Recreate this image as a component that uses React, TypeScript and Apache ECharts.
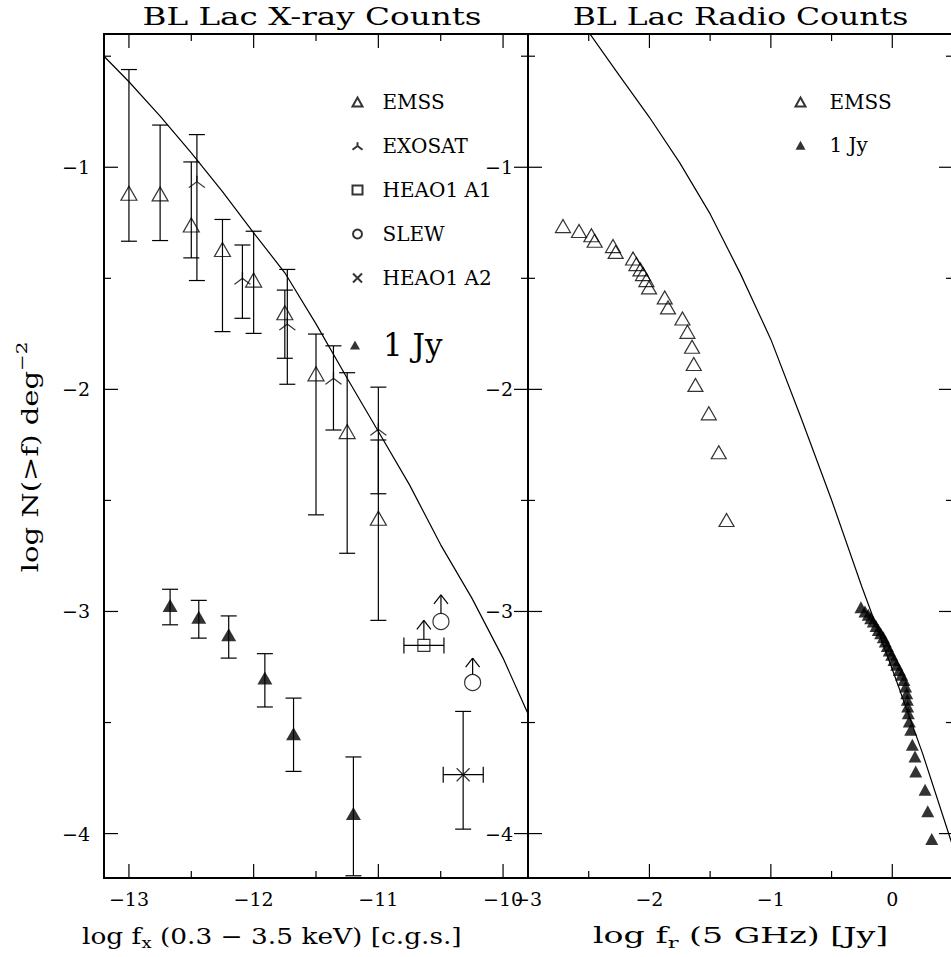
import React, { useEffect, useRef } from 'react';
import * as echarts from 'echarts';

const FONT = 'DejaVu Serif';

// axis ranges and ticks
const LEFT_X_RANGE = [-13.2, -9.8];
const RIGHT_X_RANGE = [-3, 0.5];
const Y_RANGE = [-4.2, -0.4];
const X_TICKS_LEFT = [-13, -12.5, -12, -11.5, -11, -10.5, -10];
const X_TICKS_RIGHT = [-3, -2.5, -2, -1.5, -1, -0.5, 0];
const Y_TICKS = [-4, -3.5, -3, -2.5, -2, -1.5, -1, -0.5];

// X-ray panel: EMSS
const EMSS_X = [-13.0, -12.75, -12.5, -12.25, -12.0, -11.75, -11.5, -11.25, -11.0];
const EMSS_Y = [-1.117, -1.12, -1.26, -1.37, -1.508, -1.655, -1.93, -2.19, -2.58];
const EMSS_LO = [-1.333, -1.33, -1.408, -1.74, -1.748, -1.86, -2.565, -2.738, -3.04];
const EMSS_HI = [-0.56, -0.81, -0.976, -1.235, -1.288, -1.553, -1.751, -1.925, -2.228];

// X-ray panel: EXOSAT
const EXOSAT_X = [-12.455, -12.09, -11.73, -11.36, -11.0];
const EXOSAT_Y = [-1.065, -1.5, -1.706, -1.95, -2.18];
const EXOSAT_LO = [-1.51, -1.68, -1.977, -2.183, -2.47];
const EXOSAT_HI = [-0.853, -1.35, -1.46, -1.804, -1.99];

// X-ray panel: 1 Jy
const JY_X = [-12.67, -12.44, -12.2, -11.91, -11.68, -11.2];
const JY_Y = [-2.973, -3.026, -3.105, -3.3, -3.55, -3.91];
const JY_LO = [-3.06, -3.12, -3.21, -3.43, -3.72, -4.19];
const JY_HI = [-2.9, -2.95, -3.02, -3.19, -3.39, -3.655];

// X-ray panel: HEAO1 A1 (lower limit)
const A1_X = [-10.635];
const A1_Y = [-3.153];
const A1_XLO = [-10.795];
const A1_XHI = [-10.474];
const A1_LIMIT = [-3.04];

// X-ray panel: SLEW (lower limits)
const SLEW_X = [-10.498, -10.244];
const SLEW_Y = [-3.045, -3.32];
const SLEW_LIMIT = [-2.925, -3.21];

// X-ray panel: HEAO1 A2
const A2_X = [-10.32];
const A2_Y = [-3.735];
const A2_XLO = [-10.48];
const A2_XHI = [-10.159];
const A2_LO = [-3.98];
const A2_HI = [-3.45];

// X-ray model curve
const LEFT_CURVE_X = [-13.2, -13.0, -12.75, -12.5, -12.25, -12.0, -11.75, -11.5, -11.25, -11.0, -10.75, -10.5, -10.25, -10.0, -9.8];
const LEFT_CURVE_Y = [-0.5, -0.615, -0.77, -0.935, -1.11, -1.295, -1.475, -1.705, -1.95, -2.19, -2.43, -2.7, -2.94, -3.21, -3.46];

// Radio panel: EMSS
const R_EMSS_X = [-2.712, -2.58, -2.478, -2.451, -2.3, -2.278, -2.135, -2.107, -2.074, -2.053, -2.025, -2.003, -1.874, -1.847, -1.728, -1.687, -1.649, -1.635, -1.621, -1.511, -1.429, -1.365];
const R_EMSS_Y = [-1.265, -1.287, -1.306, -1.331, -1.355, -1.381, -1.411, -1.436, -1.46, -1.481, -1.508, -1.541, -1.586, -1.631, -1.681, -1.741, -1.808, -1.886, -1.98, -2.108, -2.283, -2.588];

// Radio panel: 1 Jy
const R_JY_X = [-0.258, -0.225, -0.198, -0.178, -0.157, -0.134, -0.115, -0.096, -0.074, -0.058, -0.041, -0.025, -0.005, 0.014, 0.036, 0.058, 0.077, 0.096, 0.11, 0.119, 0.124, 0.127, 0.132, 0.14, 0.152, 0.165, 0.187, 0.193, 0.27, 0.292, 0.325];
const R_JY_Y = [-2.981, -3.0, -3.015, -3.03, -3.045, -3.065, -3.083, -3.098, -3.116, -3.135, -3.155, -3.176, -3.195, -3.218, -3.24, -3.263, -3.285, -3.308, -3.338, -3.368, -3.398, -3.428, -3.458, -3.495, -3.533, -3.6, -3.653, -3.72, -3.803, -3.9, -4.024];

// Radio model curve
const RIGHT_CURVE_X = [-2.5, -2.25, -2.0, -1.75, -1.5, -1.25, -1.0, -0.75, -0.5, -0.25, 0, 0.25, 0.5];
const RIGHT_CURVE_Y = [-0.392, -0.585, -0.775, -0.98, -1.21, -1.48, -1.775, -2.13, -2.498, -2.89, -3.26, -3.64, -4.06];

const LEFT_LEGEND = ['EMSS', 'EXOSAT', 'HEAO1 A1', 'SLEW', 'HEAO1 A2'];
const LEFT_LEGEND_BIG = ['1 Jy'];
const RIGHT_LEGEND = ['EMSS', '1 Jy'];

const INK = '#000';
const CAP = 8;
const LW = 1.2;

const isMajor = (v: number) => (Math.abs(v - Math.round(v)) < 1e-6 ? 1 : 0);
const fmt = (v: number) => (isMajor(v) ? String(Math.round(v)).replace('-', '\u2212') : '');

const zip = (...cols: number[][]) => cols[0].map((_, i) => cols.map((c) => c[i]));

const lineEl = (x1: number, y1: number, x2: number, y2: number) => ({
  type: 'line',
  shape: { x1, y1, x2, y2 },
  style: { stroke: INK, lineWidth: LW },
});

const renderTicks = (params: any, api: any) => {
  const cs = params.coordSys;
  const kind = api.value(0);
  const v = api.value(1);
  const len = api.value(2) ? 14 : 7;
  if (kind === 0) {
    const px = api.coord([v, -2])[0];
    return {
      type: 'group',
      children: [
        lineEl(px, cs.y + cs.height, px, cs.y + cs.height - len),
        lineEl(px, cs.y, px, cs.y + len),
      ],
    };
  }
  const py = api.coord([0, v])[1];
  return {
    type: 'group',
    children: [lineEl(cs.x, py, cs.x + len, py), lineEl(cs.x + cs.width, py, cs.x + cs.width - len, py)],
  };
};

const renderVErr = (params: any, api: any) => {
  const x = api.value(0);
  const a = api.coord([x, api.value(1)]);
  const b = api.coord([x, api.value(2)]);
  return {
    type: 'group',
    children: [
      lineEl(a[0], a[1], b[0], b[1]),
      lineEl(a[0] - CAP, a[1], a[0] + CAP, a[1]),
      lineEl(b[0] - CAP, b[1], b[0] + CAP, b[1]),
    ],
  };
};

const renderHErr = (params: any, api: any) => {
  const y = api.value(0);
  const a = api.coord([api.value(1), y]);
  const b = api.coord([api.value(2), y]);
  return {
    type: 'group',
    children: [
      lineEl(a[0], a[1], b[0], b[1]),
      lineEl(a[0], a[1] - CAP, a[0], a[1] + CAP),
      lineEl(b[0], b[1] - CAP, b[0], b[1] + CAP),
    ],
  };
};

const makeArrow = (gap: number) => (params: any, api: any) => {
  const x = api.value(0);
  const a = api.coord([x, api.value(1)]);
  const b = api.coord([x, api.value(2)]);
  return {
    type: 'group',
    children: [
      lineEl(a[0], a[1] - gap, b[0], b[1]),
      lineEl(b[0] - 7, b[1] + 9, b[0], b[1]),
      lineEl(b[0] + 7, b[1] + 9, b[0], b[1]),
    ],
  };
};

const EXOSAT_SYMBOL = 'path://M0,12 L8,6 L16,12 M8,6 L8,0';
const CROSS_SYMBOL = 'path://M0,0 L10,10 M10,0 L0,10';

const openStyle = { color: 'none', borderColor: INK, borderWidth: LW };
const fillStyle = { color: INK, borderColor: INK, borderWidth: 0 };

export default function App() {
  const ref = useRef<HTMLDivElement>(null);

  useEffect(() => {
    if (!ref.current) return;
    const chart = echarts.init(ref.current, undefined, { renderer: 'svg' });

    const axisLabel = (margin: number) => ({
      formatter: fmt,
      fontSize: 19,
      fontFamily: FONT,
      color: INK,
      margin,
    });
    const baseAxis = {
      type: 'value',
      axisLine: { show: false },
      axisTick: { show: false },
      splitLine: { show: false },
    };

    const tickData = (xs: number[]) => [
      ...xs.map((v) => [0, v, isMajor(v)]),
      ...Y_TICKS.map((v) => [1, v, isMajor(v)]),
    ];

    const legendText = (size: number, pad: number) => ({
      fontFamily: FONT,
      fontSize: size,
      lineHeight: size,
      color: INK,
      padding: [0, 0, 0, pad],
    });

    const option: any = {
      animation: false,
      backgroundColor: '#fff',
      textStyle: { fontFamily: FONT },
      grid: [
        { left: 104, top: 34, width: 424, height: 844, show: true, borderColor: INK, borderWidth: 2, outerBoundsMode: 'none', containLabel: false },
        { left: 528, top: 34, width: 425, height: 844, show: true, borderColor: INK, borderWidth: 2, outerBoundsMode: 'none', containLabel: false },
      ],
      xAxis: [
        { ...baseAxis, gridIndex: 0, min: LEFT_X_RANGE[0], max: LEFT_X_RANGE[1], splitNumber: 4, axisLabel: axisLabel(11) },
        { ...baseAxis, gridIndex: 1, min: RIGHT_X_RANGE[0], max: RIGHT_X_RANGE[1], interval: 1, axisLabel: axisLabel(11) },
      ],
      yAxis: [
        { ...baseAxis, gridIndex: 0, min: Y_RANGE[0], max: Y_RANGE[1], splitNumber: 4, axisLabel: axisLabel(14) },
        { ...baseAxis, gridIndex: 1, min: Y_RANGE[0], max: Y_RANGE[1], splitNumber: 4, axisLabel: axisLabel(15) },
      ],
      legend: [
        {
          data: LEFT_LEGEND, orient: 'vertical', left: 350, top: 92, itemWidth: 10, itemHeight: 9, itemGap: 24,
          padding: 0, selectedMode: false, textStyle: legendText(20, 15),
        },
        {
          data: LEFT_LEGEND_BIG, orient: 'vertical', left: 350, top: 329.5, itemWidth: 10, itemHeight: 9,
          padding: 0, selectedMode: false, textStyle: legendText(31, 18),
        },
        {
          data: RIGHT_LEGEND, orient: 'vertical', left: 793, top: 92, itemWidth: 10, itemHeight: 9, itemGap: 23.3,
          padding: 0, selectedMode: false, textStyle: legendText(20, 19),
        },
      ],
      graphic: [
        {
          type: 'text', x: 312, y: 16.5, scaleX: 1.36,
          style: { text: 'BL Lac X-ray Counts', fontFamily: FONT, fontSize: 24, fill: INK, align: 'center', verticalAlign: 'middle' },
        },
        {
          type: 'text', x: 740.5, y: 16.5, scaleX: 1.31,
          style: { text: 'BL Lac Radio Counts', fontFamily: FONT, fontSize: 24, fill: INK, align: 'center', verticalAlign: 'middle' },
        },
        {
          type: 'text', x: 82, y: 936, scaleX: 1.2,
          style: {
            text: '{m|log f}{s|x}{m| (0.3 \u2212 3.5 keV) [c.g.s.]}',
            fontFamily: FONT, fontSize: 22, fill: INK, align: 'left', verticalAlign: 'middle',
            rich: { m: { fontSize: 22, fontFamily: FONT }, s: { fontSize: 15, fontFamily: FONT, padding: [14, 0, 0, 0] } },
          },
        },
        {
          type: 'text', x: 593, y: 936, scaleX: 1.51,
          style: {
            text: '{m|log f}{s|r}{m| (5 GHz) [Jy]}',
            fontFamily: FONT, fontSize: 22, fill: INK, align: 'left', verticalAlign: 'middle',
            rich: { m: { fontSize: 22, fontFamily: FONT }, s: { fontSize: 15, fontFamily: FONT, padding: [14, 0, 0, 0] } },
          },
        },
        {
          type: 'text', x: 30, y: 457, rotation: Math.PI / 2, scaleX: 1.32,
          style: {
            text: '{m|log N(>f) deg}{s|\u22122}',
            fontFamily: FONT, fontSize: 22, fill: INK, align: 'center', verticalAlign: 'middle',
            rich: { m: { fontSize: 22, fontFamily: FONT }, s: { fontSize: 15, fontFamily: FONT, padding: [0, 0, 16, 0] } },
          },
        },
      ],
      series: [
        // ---- X-ray panel ----
        { type: 'custom', xAxisIndex: 0, yAxisIndex: 0, silent: true, renderItem: renderTicks, data: tickData(X_TICKS_LEFT) },
        {
          type: 'line', xAxisIndex: 0, yAxisIndex: 0, silent: true, showSymbol: false, symbol: 'none',
          lineStyle: { color: INK, width: LW }, data: zip(LEFT_CURVE_X, LEFT_CURVE_Y),
        },
        { type: 'custom', xAxisIndex: 0, yAxisIndex: 0, silent: true, renderItem: renderVErr, encode: { x: 0, y: [1, 2] }, data: zip(EMSS_X, EMSS_LO, EMSS_HI) },
        { type: 'custom', xAxisIndex: 0, yAxisIndex: 0, silent: true, renderItem: renderVErr, encode: { x: 0, y: [1, 2] }, data: zip(EXOSAT_X, EXOSAT_LO, EXOSAT_HI) },
        { type: 'custom', xAxisIndex: 0, yAxisIndex: 0, silent: true, renderItem: renderVErr, encode: { x: 0, y: [1, 2] }, data: zip(JY_X, JY_LO, JY_HI) },
        { type: 'custom', xAxisIndex: 0, yAxisIndex: 0, silent: true, renderItem: renderVErr, encode: { x: 0, y: [1, 2] }, data: zip(A2_X, A2_LO, A2_HI) },
        { type: 'custom', xAxisIndex: 0, yAxisIndex: 0, silent: true, renderItem: renderHErr, encode: { x: [1, 2], y: 0 }, data: zip(A1_Y, A1_XLO, A1_XHI) },
        { type: 'custom', xAxisIndex: 0, yAxisIndex: 0, silent: true, renderItem: renderHErr, encode: { x: [1, 2], y: 0 }, data: zip(A2_Y, A2_XLO, A2_XHI) },
        { type: 'custom', xAxisIndex: 0, yAxisIndex: 0, silent: true, renderItem: makeArrow(6), encode: { x: 0, y: [1, 2] }, data: zip(A1_X, A1_Y, A1_LIMIT) },
        { type: 'custom', xAxisIndex: 0, yAxisIndex: 0, silent: true, renderItem: makeArrow(8), encode: { x: 0, y: [1, 2] }, data: zip(SLEW_X, SLEW_Y, SLEW_LIMIT) },
        {
          name: 'EMSS', type: 'scatter', xAxisIndex: 0, yAxisIndex: 0, silent: true, symbol: 'triangle', symbolSize: [16, 14],
          itemStyle: openStyle, data: zip(EMSS_X, EMSS_Y),
        },
        {
          name: 'EXOSAT', type: 'scatter', xAxisIndex: 0, yAxisIndex: 0, silent: true, symbol: EXOSAT_SYMBOL, symbolSize: [16, 12],
          itemStyle: openStyle, data: zip(EXOSAT_X, EXOSAT_Y),
        },
        {
          name: 'HEAO1 A1', type: 'scatter', xAxisIndex: 0, yAxisIndex: 0, silent: true, symbol: 'rect', symbolSize: 12,
          itemStyle: openStyle, data: zip(A1_X, A1_Y),
        },
        {
          name: 'SLEW', type: 'scatter', xAxisIndex: 0, yAxisIndex: 0, silent: true, symbol: 'circle', symbolSize: 16,
          itemStyle: openStyle, data: zip(SLEW_X, SLEW_Y),
        },
        {
          name: 'HEAO1 A2', type: 'scatter', xAxisIndex: 0, yAxisIndex: 0, silent: true, symbol: CROSS_SYMBOL, symbolSize: 13,
          itemStyle: openStyle, data: zip(A2_X, A2_Y),
        },
        {
          name: '1 Jy', type: 'scatter', xAxisIndex: 0, yAxisIndex: 0, silent: true, symbol: 'triangle', symbolSize: [15, 13],
          itemStyle: fillStyle, data: zip(JY_X, JY_Y),
        },
        // ---- Radio panel ----
        { type: 'custom', xAxisIndex: 1, yAxisIndex: 1, silent: true, renderItem: renderTicks, data: tickData(X_TICKS_RIGHT) },
        {
          type: 'line', xAxisIndex: 1, yAxisIndex: 1, silent: true, showSymbol: false, symbol: 'none',
          lineStyle: { color: INK, width: LW }, data: zip(RIGHT_CURVE_X, RIGHT_CURVE_Y),
        },
        {
          name: 'EMSS', type: 'scatter', xAxisIndex: 1, yAxisIndex: 1, silent: true, symbol: 'triangle', symbolSize: [15, 13],
          itemStyle: openStyle, data: zip(R_EMSS_X, R_EMSS_Y),
        },
        {
          name: '1 Jy', type: 'scatter', xAxisIndex: 1, yAxisIndex: 1, silent: true, symbol: 'triangle', symbolSize: [13, 12],
          itemStyle: fillStyle, data: zip(R_JY_X, R_JY_Y),
        },
      ],
    };

    chart.setOption(option);
    return () => chart.dispose();
  }, []);

  return (
    <div
      ref={ref}
      style={{ position: 'fixed', left: 0, top: 0, width: 951, height: 957, background: '#fff' }}
    />
  );
}
